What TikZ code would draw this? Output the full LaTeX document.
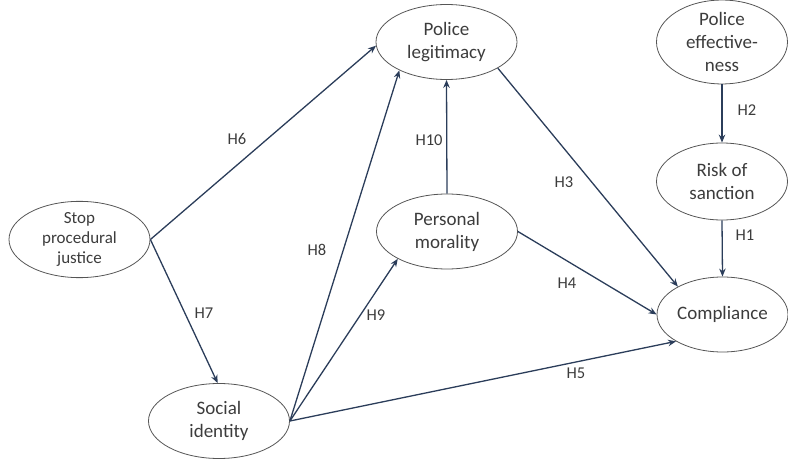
\documentclass[tikz,border=0pt]{standalone}
\usepackage{fontspec}
\setmainfont{Carlito}
\usetikzlibrary{shapes.geometric,arrows.meta}
\definecolor{arrowc}{HTML}{2B3D5A}
\definecolor{textc}{HTML}{3C3C3C}
\definecolor{edgec}{HTML}{555555}
\begin{document}
\begin{tikzpicture}[x=1pt,y=-1pt,
  var/.style={ellipse, draw=edgec, line width=0.8pt, minimum width=141pt, minimum height=75pt,
    inner sep=0pt, align=center, text=textc, font=\fontsize{19}{23}\selectfont},
  smallvar/.style={var, font=\fontsize{17}{20}\selectfont},
  rvar/.style={var, minimum width=131pt},
  link/.style={draw=arrowc, line width=1.3pt, -{Stealth[length=8pt,width=6.5pt]}},
  hlab/.style={text=textc, font=\fontsize{16.5}{19}\selectfont, inner sep=0pt}]
\useasboundingbox (0,0) rectangle (788,460);
\node[smallvar] (stop) at (79.5,239.5) {Stop\\procedural\\justice};
\node[var] (social) at (219,421) {Social\\identity};
\node[var] (legit) at (446.5,42) {Police\\legitimacy};
\node[var] (moral) at (447,231.5) {Personal\\morality};
\node[rvar] (eff) at (722,42) {Police\\effective-\\ness};
\node[rvar, minimum height=77pt] (risk) at (722,181.5) {Risk of\\sanction};
\node[rvar] (comp) at (722.5,314.5) {Compliance};
\draw[link] (stop.east) -- (legit.183);
\draw[link] (stop.east) -- (social.92);
\draw[link] (social.east) -- (legit.211);
\draw[link] (social.east) -- (moral.209);
\draw[link] (social.east) -- (comp.210);
\draw[link] (moral.north) -- (legit.south);
\draw[link] (legit.333) -- (comp.148);
\draw[link] (moral.east) -- (comp.west);
\draw[link] (eff.south) -- (risk.north);
\draw[link] (risk.south) -- (comp.north);
\node[hlab] (h6) at (237,139) {H6};
\node[hlab] (h7) at (204,313) {H7};
\node[hlab] (h8) at (317,250) {H8};
\node[hlab] (h9) at (376,315) {H9};
\node[hlab] (h10) at (429,140) {H10};
\node[hlab] (h3) at (564,182) {H3};
\node[hlab] (h4) at (567,283) {H4};
\node[hlab] (h5) at (576,373) {H5};
\node[hlab] (h2) at (747,110) {H2};
\node[hlab] (h1) at (745,235) {H1};
\end{tikzpicture}
\end{document}
